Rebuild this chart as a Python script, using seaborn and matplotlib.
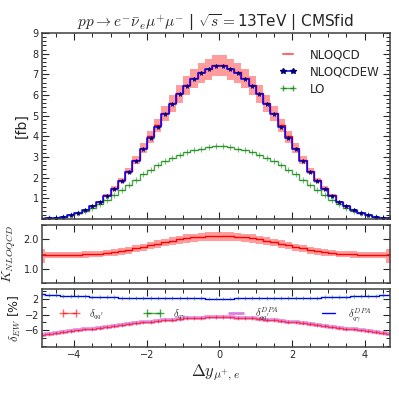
import numpy as np
import pandas as pd
import matplotlib
matplotlib.use("Agg")
import matplotlib.pyplot as plt
import seaborn as sns
from matplotlib.lines import Line2D
from matplotlib.ticker import MultipleLocator, FixedLocator, FormatStrFormatter

# ---------------- data ----------------
bin_edges = [round(-5.0 + 0.2 * i, 1) for i in range(50)]   # -5.0 ... 4.8
bin_centers = [round(-4.9 + 0.2 * i, 1) for i in range(49)]  # -4.9 ... 4.7

nloqcdew = [0.02, 0.03, 0.06, 0.11, 0.17, 0.27, 0.42, 0.61, 0.82, 1.11, 1.45, 1.84, 2.29,
            2.81, 3.38, 3.94, 4.47, 5.06, 5.56, 6.04, 6.43, 6.78, 7.05, 7.24, 7.42,
            7.42, 7.24, 7.05, 6.78, 6.43, 6.04, 5.56, 5.06, 4.47, 3.94, 3.38, 2.81,
            2.29, 1.84, 1.45, 1.11, 0.82, 0.61, 0.42, 0.27, 0.17, 0.11, 0.06, 0.03]

nloqcd = [0.021, 0.031, 0.062, 0.114, 0.176, 0.28, 0.43, 0.63, 0.84, 1.14, 1.49, 1.88, 2.34,
          2.86, 3.44, 4.00, 4.53, 5.12, 5.62, 6.09, 6.48, 6.83, 7.09, 7.28, 7.46,
          7.46, 7.28, 7.09, 6.83, 6.48, 6.09, 5.62, 5.12, 4.53, 4.00, 3.44, 2.86,
          2.34, 1.88, 1.49, 1.14, 0.84, 0.63, 0.43, 0.28, 0.176, 0.114, 0.062, 0.031]

lo = [0.025, 0.04, 0.07, 0.12, 0.19, 0.28, 0.40, 0.55, 0.73, 0.94, 1.17, 1.41, 1.66,
      1.91, 2.16, 2.39, 2.60, 2.80, 2.97, 3.12, 3.24, 3.34, 3.41, 3.47, 3.52,
      3.52, 3.47, 3.41, 3.34, 3.24, 3.12, 2.97, 2.80, 2.60, 2.39, 2.16, 1.91,
      1.66, 1.41, 1.17, 0.94, 0.73, 0.55, 0.40, 0.28, 0.19, 0.12, 0.07, 0.04]

k_factor = [1.48, 1.48, 1.47, 1.47, 1.47, 1.48, 1.49, 1.50, 1.51, 1.53, 1.56, 1.60, 1.64,
            1.69, 1.74, 1.80, 1.85, 1.91, 1.96, 2.00, 2.04, 2.07, 2.10, 2.11, 2.12,
            2.12, 2.11, 2.10, 2.07, 2.04, 2.00, 1.96, 1.91, 1.85, 1.80, 1.74, 1.69,
            1.64, 1.60, 1.56, 1.53, 1.51, 1.50, 1.49, 1.48, 1.47, 1.47, 1.47, 1.48]

scale_up_pct = [14] + [6.5] * 47 + [14]
scale_dn_pct = [20] + [7.5] * 47 + [20]

delta_qq = [-7.2, -7.0, -6.75, -6.5, -6.3, -6.05, -5.8, -5.6, -5.35, -5.1, -4.9, -4.65, -4.4,
            -4.2, -4.0, -3.8, -3.6, -3.4, -3.25, -3.1, -2.95, -2.85, -2.78, -2.72, -2.7,
            -2.7, -2.72, -2.78, -2.85, -2.95, -3.1, -3.25, -3.4, -3.6, -3.8, -4.0, -4.2,
            -4.4, -4.65, -4.9, -5.1, -5.35, -5.6, -5.8, -6.05, -6.3, -6.5, -6.75, -7.0]
delta_qa = [3.2, 3.05, 2.95, 2.9, 2.85, 2.8, 2.7, 2.6, 2.55, 2.5, 2.45, 2.38, 2.33,
            2.3, 2.28, 2.25, 2.23, 2.2, 2.2, 2.2, 2.2, 2.18, 2.18, 2.15, 2.15,
            2.15, 2.15, 2.18, 2.18, 2.2, 2.2, 2.2, 2.2, 2.23, 2.25, 2.28, 2.3,
            2.33, 2.38, 2.45, 2.5, 2.55, 2.6, 2.7, 2.8, 2.85, 2.9, 2.95, 3.05]
delta_qq_dpa = list(delta_qq)
delta_qa_dpa = list(delta_qa)
mc_err_pct = 0.5

# ---------------- style ----------------
sns.set_style("ticks")
plt.rcParams["font.family"] = ["DejaVu Sans"]
plt.rcParams["mathtext.fontset"] = "cm"
plt.rcParams["legend.numpoints"] = 2

fig = plt.figure(figsize=(3.99, 3.99), dpi=100)
L, W = 0.1045, 0.873
ax1 = fig.add_axes([L, 0.4511, W, 0.4662])
ax2 = fig.add_axes([L, 0.2907, W, 0.1454])
ax3 = fig.add_axes([L, 0.1303, W, 0.1454])

edges = np.array(bin_edges)
centers = np.array(bin_centers)


def stepy(vals):
    v = list(vals)
    return np.array(v + [v[-1]])


def step_df(vals):
    return pd.DataFrame({"x": edges, "y": stepy(vals)})


# main panel
nq = np.array(nloqcd)
up = nq * (1 + np.array(scale_up_pct) / 100)
dn = nq * (1 - np.array(scale_dn_pct) / 100)
ax1.fill_between(edges, stepy(dn), stepy(up), step="post", color="#ff5a5a", alpha=0.6, lw=0)
sns.lineplot(data=step_df(nloqcd), x="x", y="y", ax=ax1, drawstyle="steps-post",
             color="red", lw=1.0, estimator=None, sort=False)
sns.lineplot(data=step_df(lo), x="x", y="y", ax=ax1, drawstyle="steps-post",
             color="green", lw=1.0, alpha=0.7, estimator=None, sort=False)
ax1.plot(centers, lo, ls="none", marker="+", color="green", ms=5, mew=0.8, alpha=0.5)
sns.lineplot(data=step_df(nloqcdew), x="x", y="y", ax=ax1, drawstyle="steps-post",
             color="blue", lw=1.1, estimator=None, sort=False)
ax1.plot(centers, nloqcdew, ls="none", marker="*", color="#000070", ms=3.6, mew=0.4)

h1 = Line2D([], [], color="#ff6b6b", lw=1.5)
h2 = Line2D([], [], color="blue", lw=1.1, marker="*", mfc="#000070", mec="#000070", ms=4)
h3 = Line2D([], [], color="green", lw=1.0, marker="+", ms=5, alpha=0.7)
ax1.legend([h1, h2, h3], ["NLOQCD", "NLOQCDEW", "LO"], loc="upper right",
           bbox_to_anchor=(1.0, 0.975), frameon=False, fontsize=8.5,
           handlelength=1.45, handletextpad=1.1, labelspacing=0.35)
ax1.set_ylim(0, 9)
ax1.set_ylabel("[fb]", fontsize=10, labelpad=3)
ax1.set_title(r"$pp\to e^{-}\bar{\nu}_{e}\mu^{+}\mu^{-}$ | $\sqrt{s}=$13TeV | CMSfid",
              fontsize=11, pad=3)
ax1.yaxis.set_major_locator(FixedLocator([1, 2, 3, 4, 5, 6, 7, 8, 9]))
ax1.yaxis.set_minor_locator(MultipleLocator(0.2))

# K panel
kf = np.array(k_factor)
kup = kf * (1 + np.array(scale_up_pct) / 100)
kdn = kf * (1 - np.array(scale_dn_pct) / 100)
ax2.fill_between(edges, stepy(kdn), stepy(kup), step="post", color="#ff5a5a", alpha=0.6, lw=0)
sns.lineplot(data=step_df(k_factor), x="x", y="y", ax=ax2, drawstyle="steps-post",
             color="red", lw=1.0, estimator=None, sort=False)
ax2.set_ylim(0.5, 2.5)
ax2.yaxis.set_major_locator(FixedLocator([1.0, 2.0]))
ax2.yaxis.set_minor_locator(MultipleLocator(0.5))
ax2.yaxis.set_major_formatter(FormatStrFormatter("%.1f"))
ax2.set_ylabel(r"$K_{NLOQCD}$", fontsize=10, labelpad=4)

# EW panel
sns.lineplot(data=step_df(delta_qq_dpa), x="x", y="y", ax=ax3, drawstyle="steps-post",
             color="m", lw=2.6, alpha=0.45, estimator=None, sort=False)
sns.lineplot(data=step_df(delta_qq), x="x", y="y", ax=ax3, drawstyle="steps-post",
             color="red", lw=0.9, alpha=0.6, estimator=None, sort=False)
ax3.errorbar(centers, delta_qq, yerr=mc_err_pct, fmt="none",
             ecolor="red", elinewidth=0.9, alpha=0.5)
sns.lineplot(data=step_df(delta_qa_dpa), x="x", y="y", ax=ax3, drawstyle="steps-post",
             color="blue", lw=1.0, estimator=None, sort=False)
ax3.errorbar(centers, delta_qa, yerr=mc_err_pct, fmt="none",
             ecolor="green", elinewidth=0.9, alpha=0.5)
hr = Line2D([], [], color="red", lw=1.0, marker="+", ms=6, alpha=0.6)
hg = Line2D([], [], color="green", lw=1.0, marker="+", ms=6, alpha=0.7)
hm = Line2D([], [], color="m", lw=2.0, alpha=0.5)
hb = Line2D([], [], color="blue", lw=1.0)
ax3.legend([hr, hg, hm, hb],
           [r"$\delta_{qq^{\prime}}$", r"$\delta_{q\gamma}$",
            r"$\delta_{qq^{\prime}}^{DPA}$", r"$\delta_{q\gamma}^{DPA}$"],
           ncol=4, loc="center left", bbox_to_anchor=(0.025, 0.56), frameon=False,
           fontsize=7.5, handlelength=1.9, handletextpad=0.9, columnspacing=3.8,
           numpoints=2)
ax3.set_ylim(-10.3, 4.6)
ax3.yaxis.set_major_locator(FixedLocator([2, -2, -6]))
ax3.yaxis.set_minor_locator(MultipleLocator(2))
ax3.set_ylabel(r"$\delta_{EW}$ [%]", fontsize=9, labelpad=1)
ax3.set_xlabel(r"$\Delta y_{\mu^{+},e}$", fontsize=12, labelpad=2)

for ax in (ax1, ax2, ax3):
    ax.set_xlim(-4.9, 4.7)
    ax.xaxis.set_major_locator(MultipleLocator(2))
    ax.xaxis.set_minor_locator(MultipleLocator(0.5))
    ax.tick_params(which="both", direction="in", top=True, right=True, labelsize=7,
                   pad=2, colors="0.15")
    ax.tick_params(which="major", length=5, width=0.8)
    ax.tick_params(which="minor", length=3, width=0.7)
    for s in ax.spines.values():
        s.set_linewidth(1.1)
        s.set_color("0.25")
    if ax is not ax3:
        ax.set_xlabel("")
        ax.tick_params(labelbottom=False)

fig.savefig("out.png", dpi=100)
